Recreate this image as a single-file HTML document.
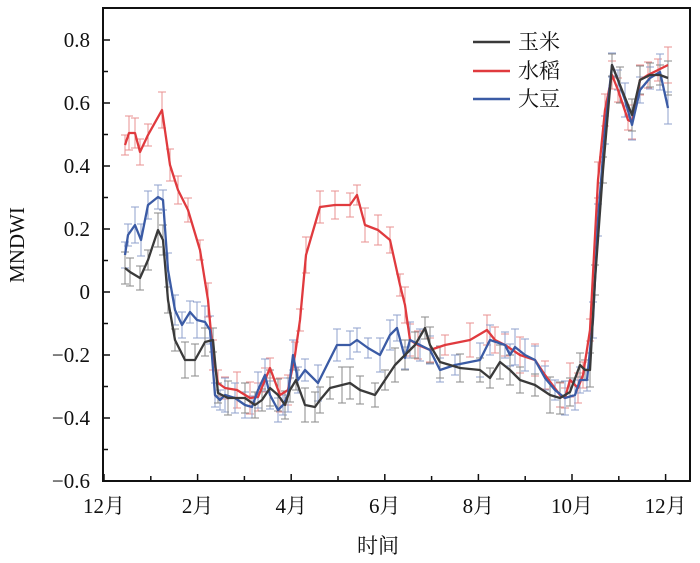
<!DOCTYPE html><html><head><meta charset="utf-8"><style>body{margin:0;background:#fff}svg{font-family:"Liberation Serif","Noto Serif CJK SC",serif}</style></head><body>
<svg id="s" width="700" height="558" xmlns="http://www.w3.org/2000/svg">
<rect x="103" y="8" width="587" height="473" fill="none" stroke="#111" stroke-width="2"/>
<g id="ax" font-size="21" fill="#111"></g>
<g id="eb"></g><g id="ln"></g>
<g font-size="21" fill="#111">
<line x1="473" y1="42" x2="510" y2="42" stroke="#3a3a3a" stroke-width="2.5"/><text x="518" y="49">玉米</text>
<line x1="473" y1="71" x2="510" y2="71" stroke="#e03a3e" stroke-width="2.5"/><text x="518" y="78">水稻</text>
<line x1="473" y1="99" x2="510" y2="99" stroke="#3b5ba5" stroke-width="2.5"/><text x="518" y="106">大豆</text>
<text x="378" y="553" text-anchor="middle">时间</text>
<text transform="translate(24,245) rotate(-90)" text-anchor="middle">MNDWI</text>
</g>
</svg>
<script>
var NS="http://www.w3.org/2000/svg";function el(p,t,a,tx){var e=document.createElementNS(NS,t);for(var k in a)e.setAttribute(k,a[k]);if(tx!=null)e.textContent=tx;document.getElementById(p).appendChild(e);return e}
var ys=["0.8","0.6","0.4","0.2","0","−0.2","−0.4","−0.6"];
for(var i=0;i<15;i++){var y=40+i*31.5;el("ax","line",{x1:103,x2:i%2?108:110,y1:y,y2:y,stroke:"#111","stroke-width":1.5});if(i%2==0)el("ax","text",{x:90,y:y+7,"text-anchor":"end"},ys[i/2]);}
var xl=["12月","2月","4月","6月","8月","10月","12月"];
for(var i=0;i<13;i++){var x=104+i*46.8;el("ax","line",{x1:x,x2:x,y1:481,y2:i%2?476:474,stroke:"#111","stroke-width":1.5});if(i%2==0)el("ax","text",{x:x,y:513,"text-anchor":"middle"},xl[i/2]);}
function P(s){return s.trim().split(/\)\s*,?\s*\(/).map(function(t){t=t.replace(/[()]/g,"").split(",");return[+t[0],+t[1]]})}
var S=[
["#e03a3e","#e89090","(125,145),(129,133),(135,133),(140,152),(148,135),(162,110),(170,165),(178,190),(188,210),(200,250),(208,300),(213,355),(218,383),(225,388),(237,390),(250,398),(258,397),(265,380),(270,368),(280,395),(288,390),(295,355),(300,320),(306,255),(320,207),(335,205),(350,205),(357,195),(365,225),(378,230),(390,240),(400,285),(405,305),(410,340),(418,345),(430,350),(445,345),(470,340),(487,330),(495,340),(505,345),(520,355),(535,360),(545,375),(560,395),(565,398),(570,380),(578,388),(583,375),(590,330),(598,180),(605,110),(612,75),(618,90),(628,120),(632,122),(640,80),(648,75),(658,70),(668,65)"],
["#3b5ba5","#8fa0cc","(125,255),(128,235),(135,225),(141,240),(148,205),(158,197),(163,200),(168,270),(175,310),(182,325),(190,312),(197,320),(205,322),(210,330),(215,395),(220,400),(225,395),(235,398),(245,405),(252,407),(258,390),(265,375),(270,395),(278,410),(283,405),(288,395),(293,355),(298,380),(305,370),(318,383),(337,345),(350,345),(357,340),(368,348),(380,355),(390,335),(397,328),(405,358),(410,340),(420,345),(430,350),(440,370),(455,365),(480,360),(490,340),(505,345),(510,355),(515,347),(525,355),(535,360),(545,378),(555,390),(565,398),(575,395),(580,380),(587,380),(593,320),(598,220),(605,130),(612,65),(618,80),(625,100),(632,125),(640,90),(650,78),(660,72),(668,108)"],
["#3a3a3a","#8a8a8a","(125,268),(130,272),(140,278),(148,260),(158,230),(163,240),(168,300),(175,340),(185,360),(195,360),(205,342),(213,340),(218,393),(228,398),(245,398),(255,405),(262,400),(270,388),(278,395),(285,405),(290,390),(296,380),(305,405),(315,407),(320,400),(330,388),(342,385),(350,383),(360,390),(375,395),(385,380),(395,365),(405,355),(415,345),(425,328),(430,345),(440,362),(460,368),(480,370),(490,378),(500,362),(510,370),(520,380),(535,385),(550,395),(560,398),(570,392),(580,365),(585,370),(590,370),(595,280),(603,170),(612,65),(620,85),(632,115),(640,80),(650,75),(660,75),(668,78)"]];
S.forEach(function(s,k){var p=P(s[2]);p.forEach(function(q,i){var e=10+((i*7+k*3)%9);el("eb","path",{d:"M"+q[0]+","+(q[1]-e)+"V"+(q[1]+e)+"M"+(q[0]-4)+","+(q[1]-e)+"h8M"+(q[0]-4)+","+(q[1]+e)+"h8",stroke:s[1],"stroke-width":1,fill:"none"})});
el("ln","polyline",{points:p.map(function(q){return q.join(",")}).join(" "),fill:"none",stroke:s[0],"stroke-width":2.3,"stroke-linejoin":"round"})});
</script></body></html>
